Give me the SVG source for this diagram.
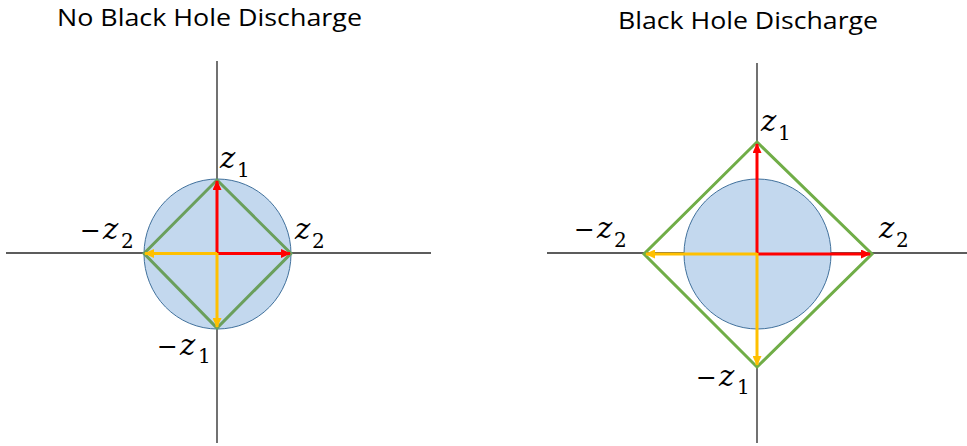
<svg xmlns="http://www.w3.org/2000/svg" width="967" height="446" viewBox="0 0 967 446">
<style>
.title{font-family:"Open Sans","Liberation Sans",Arial,sans-serif;font-size:24px;fill:#000}
.axis{stroke:#262626;stroke-width:1.3;fill:none}
.circ{fill:#C3D8EE;stroke:#41719C;stroke-width:1}
.dia{fill:none;stroke-width:3;stroke-linejoin:miter}
.red{stroke:#FF0000;stroke-width:3;fill:none}
.yel{stroke:#FFC000;stroke-width:3;fill:none}
.z{font-family:"DejaVu Serif","Liberation Serif",serif;font-style:italic;font-size:29px;fill:#000}
.sub{font-family:"DejaVu Serif","Liberation Serif",serif;font-size:20px;fill:#000}
.m{font-family:"DejaVu Serif","Liberation Serif",serif;font-size:25px;fill:#000}
</style>
<defs>
<marker id="ar" markerUnits="userSpaceOnUse" markerWidth="10" markerHeight="9" refX="9" refY="4.5" orient="auto">
<path d="M0,0 L10,4.5 L0,9 z" fill="#FF0000"/>
</marker>
<marker id="ay" markerUnits="userSpaceOnUse" markerWidth="10" markerHeight="9" refX="9" refY="4.5" orient="auto">
<path d="M0,0 L10,4.5 L0,9 z" fill="#FFC000"/>
</marker>
</defs>

<text class="title" x="57" y="26" textLength="305" lengthAdjust="spacingAndGlyphs">No Black Hole Discharge</text>
<text class="title" x="618" y="29" textLength="260" lengthAdjust="spacingAndGlyphs">Black Hole Discharge</text>

<g id="left-diagram">
  <g id="left-axes">
    <line class="axis" x1="6" y1="253" x2="431" y2="253"/>
    <line class="axis" x1="217" y1="61" x2="217" y2="443"/>
  </g>
  <g id="left-circle"><ellipse class="circ" cx="217.5" cy="254" rx="73.5" ry="75"/></g>
  <g id="left-diamond"><polygon class="dia" stroke="#6A9F5C" points="217,180 291,253.5 217,328 144,253.5"/></g>
  <g id="left-arrows">
    <line class="red" x1="217" y1="254" x2="217" y2="181" marker-end="url(#ar)"/>
    <line class="red" x1="216" y1="253.5" x2="290" y2="253.5" marker-end="url(#ar)"/>
    <line class="yel" x1="217" y1="253.5" x2="145" y2="253.5" marker-end="url(#ay)"/>
    <line class="yel" x1="217" y1="253" x2="217" y2="327" marker-end="url(#ay)"/>
  </g>
  <g id="left-labels">
    <text class="z" x="220" y="168">z</text><text class="sub" x="237" y="177">1</text>
    <text class="z" x="295" y="239">z</text><text class="sub" x="312" y="248">2</text>
    <text class="m" x="80" y="239">−</text><text class="z" x="103" y="239">z</text><text class="sub" x="121" y="248">2</text>
    <text class="m" x="157" y="355">−</text><text class="z" x="180" y="355">z</text><text class="sub" x="198" y="363">1</text>
  </g>
</g>

<g id="right-diagram">
  <g id="right-axes">
    <line class="axis" x1="547" y1="253" x2="967" y2="253"/>
    <line class="axis" x1="757" y1="63" x2="757" y2="443"/>
  </g>
  <g id="right-circle"><ellipse class="circ" cx="757.5" cy="254" rx="73.5" ry="75"/></g>
  <g id="right-diamond"><polygon class="dia" stroke="#70AD47" points="757,142 872,254 757,367 644,254"/></g>
  <g id="right-arrows">
    <line class="red" x1="757" y1="254" x2="757" y2="144" marker-end="url(#ar)"/>
    <line class="red" x1="756" y1="254" x2="870" y2="254" marker-end="url(#ar)"/>
    <line class="yel" x1="757" y1="254" x2="646" y2="254" marker-end="url(#ay)"/>
    <line class="yel" x1="757" y1="253" x2="757" y2="365" marker-end="url(#ay)"/>
  </g>
  <g id="right-labels">
    <text class="z" x="761" y="131">z</text><text class="sub" x="778" y="140">1</text>
    <text class="z" x="879" y="238">z</text><text class="sub" x="896" y="247">2</text>
    <text class="m" x="574" y="238">−</text><text class="z" x="597" y="238">z</text><text class="sub" x="614" y="247">2</text>
    <text class="m" x="696" y="386">−</text><text class="z" x="719" y="386">z</text><text class="sub" x="737" y="394">1</text>
  </g>
</g>
</svg>
